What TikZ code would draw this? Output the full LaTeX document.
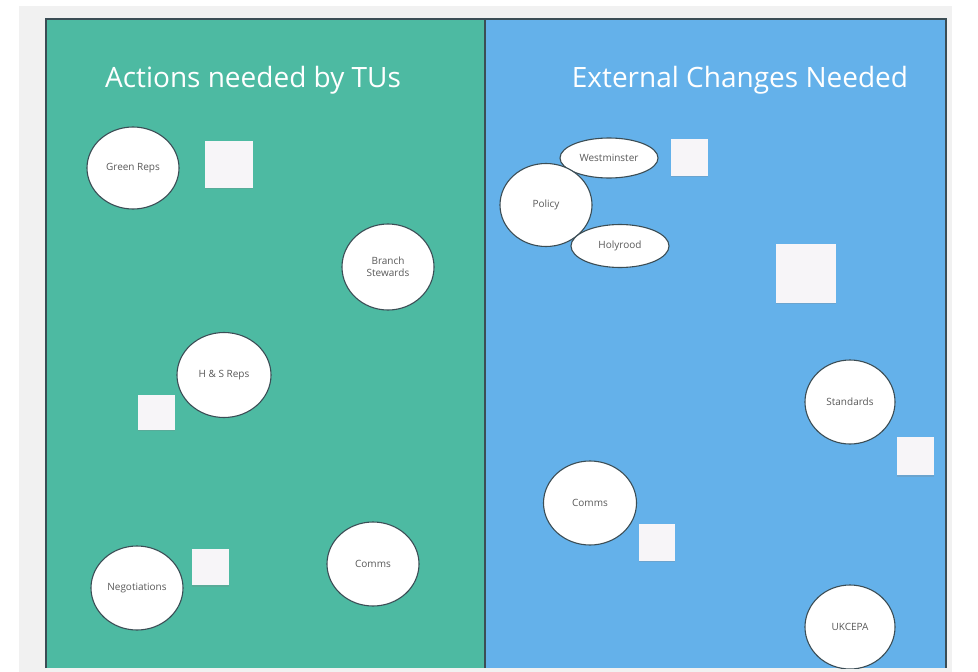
\documentclass[tikz,border=0pt]{standalone}
\usepackage{fontspec}
\setmainfont{Open Sans}
\usetikzlibrary{shapes.geometric,shadows}

\definecolor{boardgrey}{HTML}{F1F1F1}
\definecolor{tugreen}{HTML}{4DBAA2}
\definecolor{extblue}{HTML}{64B1EA}
\definecolor{frameline}{HTML}{3B4D55}
\definecolor{notepaper}{HTML}{F7F5F8}

\begin{document}
\begin{tikzpicture}[x=1pt,y=-1pt,
  heading/.style={text=white,font=\fontsize{28}{32}\selectfont},
  bubble/.style={ellipse,draw=frameline,line width=1.1pt,fill=white,inner sep=0pt,
    text=black!65,align=center,font=\fontsize{10}{12}\selectfont},
  note/.style={rectangle,fill=notepaper,inner sep=0pt,
    drop shadow={shadow xshift=0pt,shadow yshift=-1.5pt,opacity=0.25}}]
\useasboundingbox (0,0) rectangle (978,672);
\fill[boardgrey] (19,6) rectangle (952,672);

% the two columns
\fill[tugreen] (46,19) rectangle (485,668);
\fill[extblue] (485,19) rectangle (946,668);
\draw[frameline,line width=1.3pt] (46,668) -- (46,19) -- (946,19) -- (946,668);
\draw[frameline,line width=1.3pt] (485,19) -- (485,668);

\node[heading] (tuhead) at (253,80) {Actions needed by TUs};
\node[heading] (exthead) at (740,80) {External Changes Needed};

% actions needed by TUs
\node[bubble,minimum width=92,minimum height=82] (greenreps) at (133,168) {Green Reps};
\node[note,minimum width=48,minimum height=47] (n1) at (229,164) {};
\node[bubble,minimum width=92,minimum height=86] (branch) at (388,267) {Branch\\Stewards};
\node[bubble,minimum width=94,minimum height=85] (hsreps) at (224,375) {H \& S Reps};
\node[note,minimum width=37,minimum height=35] (n2) at (156,412) {};
\node[bubble,minimum width=92,minimum height=84] (negot) at (137,588) {Negotiations};
\node[note,minimum width=37,minimum height=36] (n3) at (210,567) {};
\node[bubble,minimum width=92,minimum height=84] (tucomms) at (373,564) {Comms};

% external changes needed
\node[bubble,minimum width=98,minimum height=40] (westm) at (609,158) {Westminster};
\node[bubble,minimum width=92,minimum height=83] (policy) at (546,205) {Policy};
\node[bubble,minimum width=98,minimum height=43] (holy) at (620,246) {Holyrood};
\node[note,minimum width=37,minimum height=37] (n4) at (689,157) {};
\node[note,minimum width=60,minimum height=59] (n5) at (806,273) {};
\node[bubble,minimum width=90,minimum height=84] (stand) at (850,402) {Standards};
\node[note,minimum width=37,minimum height=38] (n6) at (915,456) {};
\node[bubble,minimum width=93,minimum height=84] (extcomms) at (590,503) {Comms};
\node[note,minimum width=36,minimum height=37] (n7) at (657,542) {};
\begin{scope}
\clip (485,19) rectangle (946,668);
\node[bubble,minimum width=90,minimum height=84] (ukcepa) at (850,627) {UKCEPA};
\end{scope}
\end{tikzpicture}
\end{document}
